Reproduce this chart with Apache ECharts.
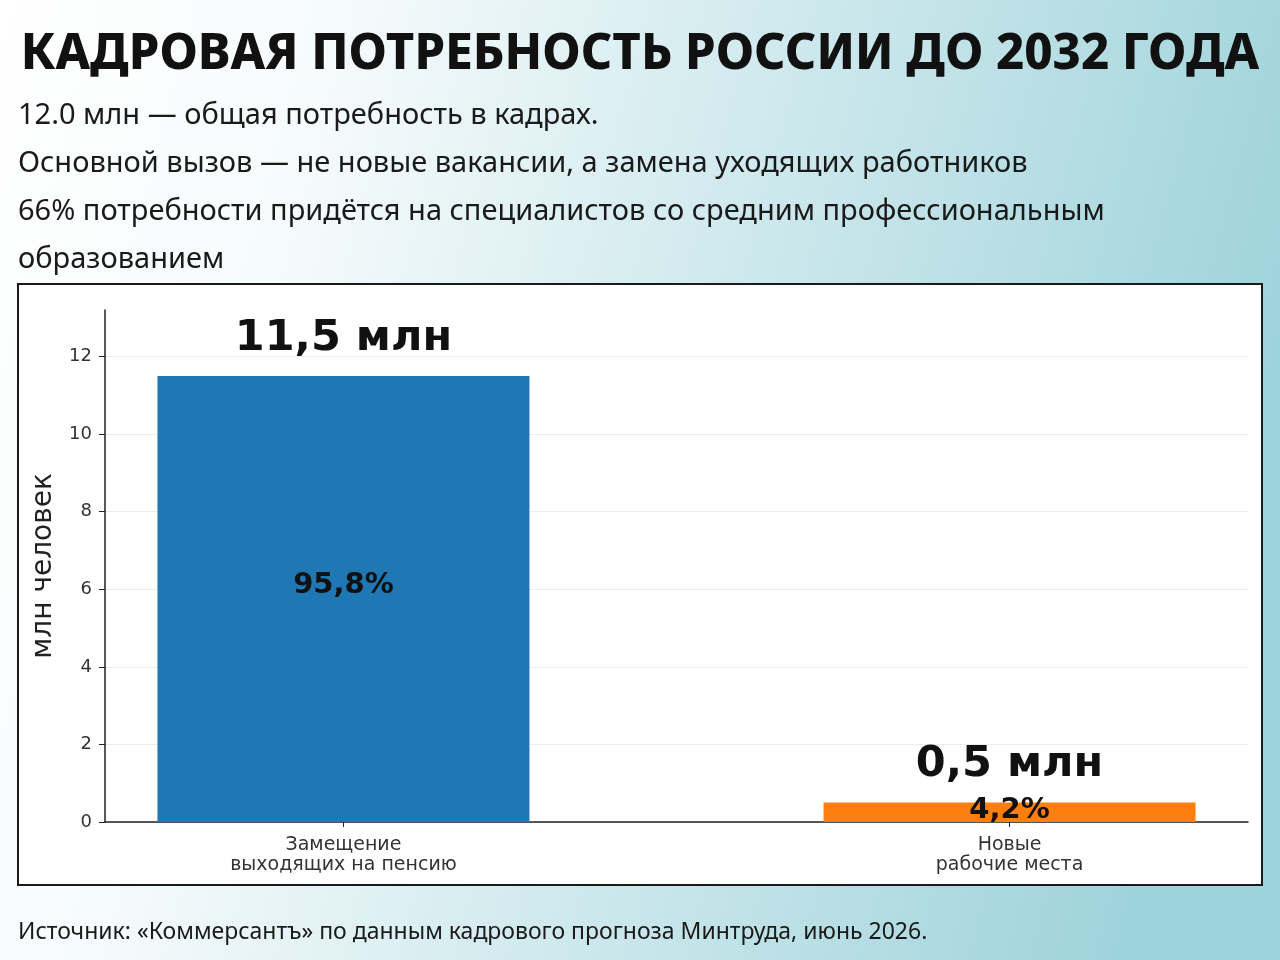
<!DOCTYPE html>
<html>
<head>
<meta charset="utf-8">
<script src="https://cdn.jsdelivr.net/npm/echarts@6/dist/echarts.min.js"></script>
<style>
  html, body { margin: 0; padding: 0; }
  #chart { width: 1280px; height: 960px; }
</style>
</head>
<body>
<div id="chart"></div>
<script>
// data
var categories = ['Замещение\nвыходящих на пенсию', 'Новые\nрабочие места'];
var values = [11.5, 0.5];          // млн человек
var shares = [95.8, 4.2];          // % от общей потребности
var barColors = ['#1f77b4', '#ff7f0e'];
var yTicks = [0, 2, 4, 6, 8, 10, 12];

var titleText = 'КАДРОВАЯ ПОТРЕБНОСТЬ РОССИИ ДО 2032 ГОДА';
var subLines = [
    '12.0 млн — общая потребность в кадрах.',
    'Основной вызов — не новые вакансии, а замена уходящих работников',
    '66% потребности придётся на специалистов со средним профессиональным',
    'образованием'
];
var sourceText = 'Источник: «Коммерсантъ» по данным кадрового прогноза Минтруда, июнь 2026.';

function comma(v) { return String(v).replace('.', ','); }

var dom = document.getElementById('chart');
var myChart = echarts.init(dom);

var titles = [{
    text: titleText,
    left: 'center', top: 31, padding: 0,
    textStyle: { fontFamily: 'Noto Sans', fontWeight: 800, fontSize: 49, color: '#111' }
}];
for (var i = 0; i < subLines.length; i++) {
    titles.push({
        text: subLines[i],
        left: 18, top: 101 + i * 48, padding: 0,
        textStyle: { fontFamily: 'Noto Sans', fontWeight: 'normal', fontSize: 29, color: '#1a1a1a' }
    });
}
titles.push({
    text: sourceText,
    left: 18, top: 921, padding: 0,
    textStyle: { fontFamily: 'Noto Sans', fontWeight: 'normal', fontSize: 23, color: '#1a1a1a' }
});

var barData = [], shareData = [];
for (var i = 0; i < values.length; i++) {
    barData.push({ value: [i, values[i]], itemStyle: { color: barColors[i] } });
    shareData.push({
        value: [i, values[i]],
        label: { offset: i === 0 ? [0, -14] : [0, -2] }
    });
}

var option = {
    animation: false,
    backgroundColor: {
        type: 'linear', x: 0, y: 0, x2: 1, y2: 0.35,
        colorStops: [
            { offset: 0, color: '#ffffff' },
            { offset: 0.25, color: '#f6fbfc' },
            { offset: 1, color: '#9fd3db' }
        ]
    },
    title: titles,
    graphic: [{
        type: 'rect', z: -10, silent: true,
        shape: { x: 18, y: 284, width: 1244, height: 601 },
        style: { fill: '#ffffff', stroke: '#1a1a1a', lineWidth: 2 }
    }],
    grid: { left: 105, right: 32, top: 310, bottom: 138 },
    xAxis: {
        type: 'value',
        min: -0.358, max: 1.358,
        splitLine: { show: false },
        axisLine: { show: true, lineStyle: { color: '#222', width: 1.5 } },
        axisTick: { show: true, customValues: [0, 1], length: 5, lineStyle: { color: '#222' } },
        axisLabel: {
            customValues: [0, 1],
            formatter: function (v) { return categories[Math.round(v)]; },
            fontFamily: 'DejaVu Sans', fontSize: 19, color: '#333',
            lineHeight: 20, margin: 13
        }
    },
    yAxis: {
        type: 'value',
        min: 0, max: 13.2,
        name: 'млн человек',
        nameLocation: 'middle', nameRotate: 90, nameGap: 44,
        nameTextStyle: { fontFamily: 'DejaVu Sans', fontSize: 28, color: '#222' },
        axisLine: { show: true, onZero: false, lineStyle: { color: '#222', width: 1.5 } },
        axisTick: { show: true, customValues: yTicks, length: 6, lineStyle: { color: '#222' } },
        axisLabel: {
            customValues: yTicks,
            fontFamily: 'DejaVu Sans', fontSize: 18, color: '#333', margin: 13
        },
        splitLine: { show: true, lineStyle: { color: '#ececec', width: 1 } }
    },
    series: [{
        type: 'bar',
        data: barData,
        barWidth: 372,
        label: {
            show: true, position: 'top', distance: 16,
            formatter: function (p) { return comma(p.value[1]) + ' млн'; },
            fontFamily: 'DejaVu Sans', fontWeight: 'bold', fontSize: 43, color: '#111'
        }
    }, {
        type: 'bar',
        data: shareData,
        barWidth: 372,
        barGap: '-100%',
        itemStyle: { color: 'rgba(0,0,0,0)' },
        label: {
            show: true, position: 'inside',
            formatter: function (p) { return comma(shares[p.dataIndex]) + '%'; },
            fontFamily: 'DejaVu Sans', fontWeight: 'bold', fontSize: 29, color: '#111'
        }
    }]
};

if (option && typeof option === 'object') {
    myChart.setOption(option, true);
}
</script>
</body>
</html>
